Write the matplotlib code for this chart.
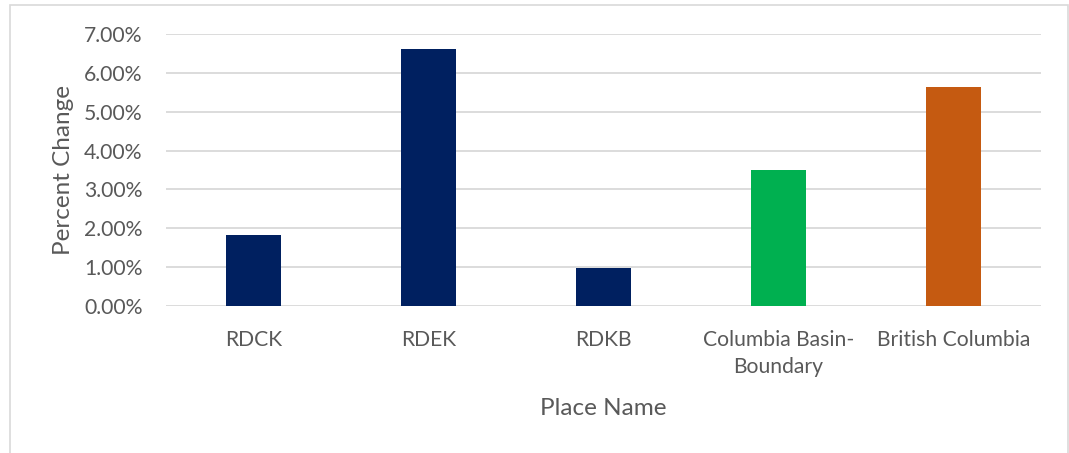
import matplotlib
matplotlib.use("Agg")
import matplotlib.pyplot as plt
from matplotlib.patches import Rectangle
from matplotlib.ticker import PercentFormatter, MultipleLocator

places = ["RDCK", "RDEK", "RDKB", "Columbia Basin-\nBoundary", "British Columbia"]
pct_change = [0.0183, 0.0661, 0.0098, 0.0349, 0.0564]
bar_colors = ["#002060", "#002060", "#002060", "#00B050", "#C55A11"]

plt.rcParams["font.family"] = ["Lato", "DejaVu Sans"]
text_color = "#595959"

fig = plt.figure(figsize=(10.69, 4.53), dpi=100)
ax = fig.add_axes([166 / 1069, 1 - 306 / 453, 875 / 1069, 272 / 453])

# Outer chart frame
fig.patches.append(Rectangle((10 / 1069, -0.01), 1058 / 1069, 1 - 5 / 453 + 0.01,
                             transform=fig.transFigure, fill=False,
                             edgecolor="#d9d9d9", linewidth=1.2))

x = range(len(places))
ax.bar(x, pct_change, width=0.314, color=bar_colors, zorder=3)

ax.set_xlim(-0.5, len(places) - 0.5)
ax.set_ylim(0, 0.07)
ax.yaxis.set_major_locator(MultipleLocator(0.01))
ax.yaxis.set_major_formatter(PercentFormatter(1.0, decimals=2))
ax.grid(axis="y", color="#d9d9d9", linewidth=1.3, zorder=0)
ax.set_axisbelow(True)

for s in ax.spines.values():
    s.set_visible(False)
ax.tick_params(axis="both", length=0, labelsize=15.2, colors=text_color)
ax.tick_params(axis="y", pad=17)
ax.tick_params(axis="x", pad=17)
ax.set_xticks(list(x))
ax.set_xticklabels(places, linespacing=1.45)

ax.set_ylabel("Percent Change", fontsize=17.5, color=text_color, labelpad=7)
ax.set_xlabel("Place Name", fontsize=17.5, color=text_color, labelpad=15)

fig.savefig("out.png", dpi=100, facecolor="white")
